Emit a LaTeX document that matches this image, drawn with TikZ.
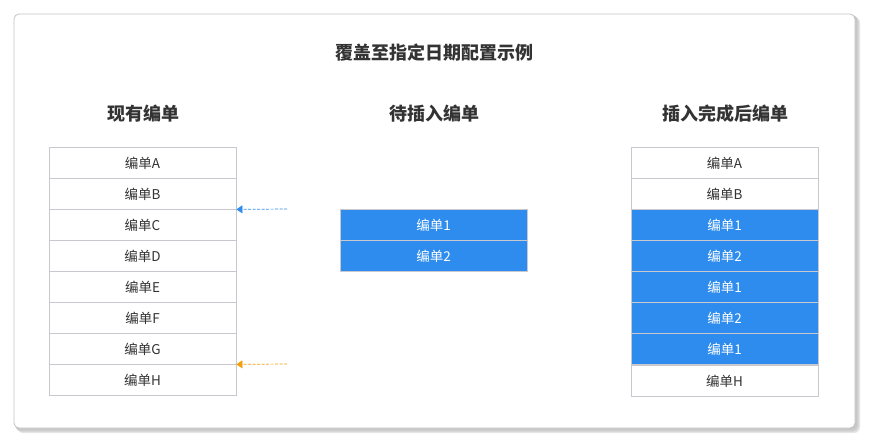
\documentclass[tikz,border=0pt]{standalone}
\usepackage{fontspec}
\setmainfont{Noto Sans CJK SC}
\usetikzlibrary{arrows.meta}
\definecolor{cellborder}{HTML}{C8C8CE}
\definecolor{cardborder}{HTML}{C4C4C8}
\definecolor{bluefill}{HTML}{2E8CEE}
\definecolor{txt}{HTML}{333333}
\definecolor{arrblue}{HTML}{2E8CEE}
\definecolor{arrorange}{HTML}{F59E0B}
\begin{document}
\begin{tikzpicture}[x=1pt,y=-1pt,
  cell/.style={draw=cellborder,line width=0.8pt,fill=white,minimum width=187pt,minimum height=31pt,inner sep=0pt,text height=11pt,text depth=0pt,text=txt,font=\fontsize{13.5}{16}\selectfont},
  bcell/.style={cell,fill=bluefill,text=white},
  coltitle/.style={font=\fontsize{18}{22}\selectfont\bfseries,text=txt},
  dasharrow/.style={dashed,dash pattern=on 3pt off 1.5pt,line width=0.7pt,-{Triangle[length=6pt,width=8pt]}}]
\useasboundingbox (0,0) rectangle (876,447);
% card shadow
\fill[black!10,rounded corners=6pt] (17,17) rectangle (860,433);
\fill[black!18,rounded corners=5pt] (16,16) rectangle (858.5,431.5);
\fill[black!22,rounded corners=5pt] (15,15) rectangle (857,430);
\draw[cardborder,fill=white,line width=0.8pt,rounded corners=5pt] (14,14) rectangle (855,428);
\node[font=\fontsize{18}{22}\selectfont\bfseries,text=txt] (title) at (434,53) {覆盖至指定日期配置示例};
% column titles
\node[coltitle] (t1) at (143,114) {现有编单};
\node[coltitle] (t2) at (434,114) {待插入编单};
\node[coltitle] (t3) at (725,114) {插入完成后编单};
% left column
\foreach \t [count=\i] in {A,B,C,D,E,F,G,H}
  \node[cell] (l\i) at (142.5,{147+31*(\i-1)+15.5}) {编单\t};
% middle column
\node[bcell] (m1) at (433.5,224.5) {编单1};
\node[bcell] (m2) at (433.5,255.5) {编单2};
% right column
\node[cell] (r1) at (724.5,162.5) {编单A};
\node[cell] (r2) at (724.5,193.5) {编单B};
\node[bcell] (r3) at (724.5,224.5) {编单1};
\node[bcell] (r4) at (724.5,255.5) {编单2};
\node[bcell] (r5) at (724.5,286.5) {编单1};
\node[bcell] (r6) at (724.5,317.5) {编单2};
\node[bcell] (r7) at (724.5,348.5) {编单1};
\node[cell] (r8) at (724.5,380.5) {编单H};
\fill[cellborder] (r7.south west) rectangle (r8.north east);
% arrows
\coordinate (ab) at (287,209);
\coordinate (ao) at (287,364);
\draw[dasharrow,arrblue] (ab) -- (l2.south east);
\draw[dasharrow,arrorange] (ao) -- (l7.south east);
\end{tikzpicture}
\end{document}
